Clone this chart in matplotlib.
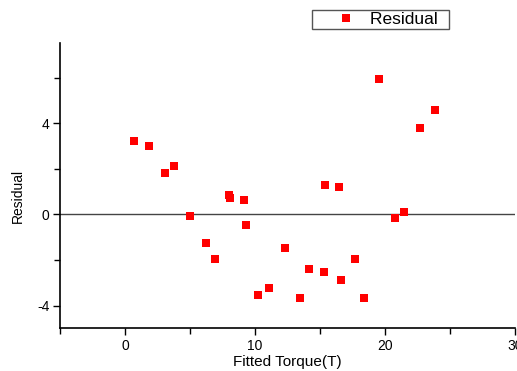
import numpy as np
import matplotlib.pyplot as plt
from matplotlib.ticker import MultipleLocator

plt.rcParams['font.family'] = ['Liberation Sans', 'DejaVu Sans']
plt.rcParams['axes.unicode_minus'] = False

# fitted torque vs residual
fitted = [0.69, 1.85, 3.08, 3.77, 5.0, 6.2, 6.9, 7.98, 8.08, 9.18, 9.28,
          10.25, 11.08, 12.28, 13.44, 14.18, 15.28, 16.59, 17.67, 18.38,
          20.74, 21.46, 15.38, 16.46, 19.56, 22.69, 23.87]
resid = [3.24, 3.01, 1.83, 2.10, -0.07, -1.27, -1.98, 0.84, 0.73, 0.63, -0.45,
         -3.52, -3.22, -1.49, -3.66, -2.40, -2.52, -2.86, -1.98, -3.66,
         -0.17, 0.09, 1.29, 1.19, 5.92, 3.78, 4.56]

fig = plt.figure(figsize=(5.17, 3.71), dpi=100)
ax = fig.add_axes([0.116, 0.115, 0.88, 0.768])

ax.axhline(0, color='#444444', lw=1.0, zorder=1)
ax.plot(fitted, resid, 's', color='red', ms=5.5, mew=0, label='Residual  ', zorder=3)

ax.set_xlim(-5, 30)
ax.set_ylim(-5, 7.5)
ax.xaxis.set_major_locator(MultipleLocator(10))
ax.xaxis.set_minor_locator(MultipleLocator(5))
ax.yaxis.set_major_locator(MultipleLocator(4))
ax.yaxis.set_minor_locator(MultipleLocator(2))
ax.tick_params(which='both', direction='out', width=1.0, labelsize=10, pad=2.5)
ax.tick_params(which='major', length=5)
ax.tick_params(which='minor', length=4)

for side in ('top', 'right'):
    ax.spines[side].set_visible(False)
for side in ('left', 'bottom'):
    ax.spines[side].set_linewidth(1.2)

ax.set_xlabel('Fitted Torque(T)', fontsize=11)
ax.xaxis.set_label_coords(0.5, -0.095)
ax.set_ylabel('Residual', fontsize=10)
ax.yaxis.set_label_coords(-0.078, 0.466)

leg = fig.legend(loc='upper left', bbox_to_anchor=(0.6035, 0.973), borderaxespad=0,
                 fontsize=12.5, fancybox=False, edgecolor='#555555', framealpha=1,
                 borderpad=0.1, handletextpad=-0.45, handlelength=3.7)
leg.get_frame().set_linewidth(1.0)

fig.savefig('out.png', dpi=100)
